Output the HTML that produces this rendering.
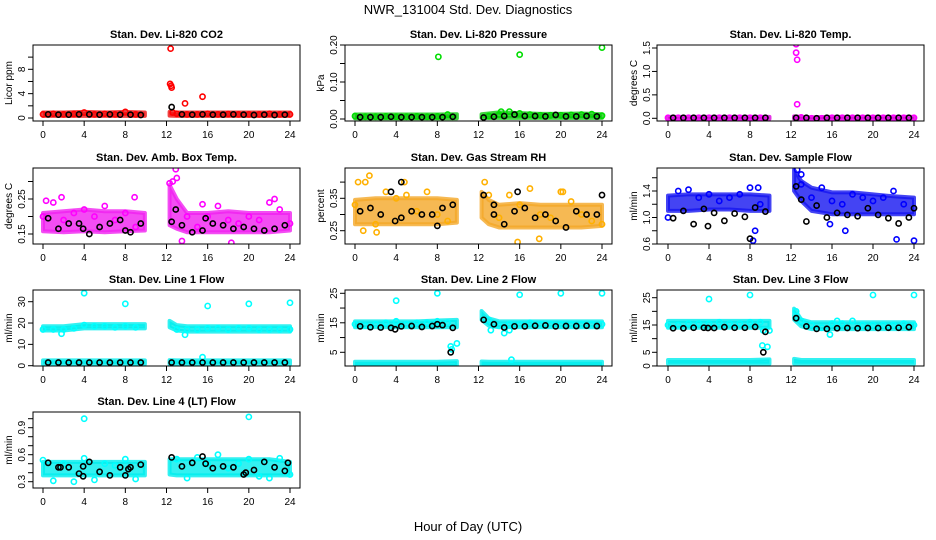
<!DOCTYPE html>
<html><head><meta charset="utf-8">
<style>
html,body{margin:0;padding:0;background:#fff;}
svg{display:block;font-family:"Liberation Sans",Arial,sans-serif;}
</style></head>
<body>
<svg id="chart" width="936" height="540" viewBox="0 0 936 540" xmlns="http://www.w3.org/2000/svg">
<text x="468" y="14" text-anchor="middle" font-size="13">NWR_131004 Std. Dev. Diagnostics</text>
<text x="468" y="531" text-anchor="middle" font-size="13">Hour of Day (UTC)</text>
</svg>
<script>
// ---- shared hour grids ----
const sampleHours=[0,1,2,3,4,5,6,7,8,9,13,14,15,16,17,18,19,20,21,22,23,24];
const blackHours=[0.5,1.5,2.5,3.5,4.5,5.5,6.5,7.5,8.5,9.5,12.5,13.5,14.5,15.5,16.5,17.5,18.5,19.5,20.5,21.5,22.5,23.5];
const bandHours=[0,2,4,6,8,9.9,12.3,13,14,16,18,20,22,24];
const xTicks=[0,4,8,12,16,20,24];

// ---- P1 CO2 ----
const p1Lo=[0.35,0.35,0.35,0.35,0.35,0.35,0.4,0.35,0.35,0.35,0.35,0.35,0.35,0.35];
const p1Hi=[0.9,0.9,1.0,0.9,1.0,0.9,1.0,0.9,0.9,0.9,0.9,0.9,0.9,0.9];
const p1Col=[0.6,0.7,0.6,0.65,0.9,0.6,0.7,0.6,1.0,0.6,0.7,0.6,0.6,0.7,0.6,0.65,0.6,0.6,0.6,0.7,0.6,0.6];
const p1OutT=[12.4,12.35,12.45,12.5,13.8,15.5,12.6];
const p1OutV=[11.4,5.6,5.3,5.0,2.4,3.5,0.9];
const p1Blk=[0.6,0.55,0.55,0.6,0.6,0.55,0.6,0.55,0.55,0.5,1.8,0.6,0.55,0.6,0.55,0.55,0.6,0.55,0.5,0.55,0.5,0.55];
const p1Ticks=[0,2,4,6,8,10];
const p1Labels=["0","","4","","8",""];

// ---- P2 Pressure ----
const p2Lo=[0.002,0.002,0.002,0.002,0.002,0.002,0.003,0.003,0.003,0.003,0.003,0.003,0.003,0.003];
const p2Hi=[0.012,0.012,0.012,0.012,0.012,0.013,0.013,0.015,0.018,0.016,0.014,0.014,0.015,0.013];
const p2Col=[0.008,0.006,0.006,0.007,0.006,0.006,0.007,0.006,0.007,0.012,0.008,0.012,0.02,0.015,0.012,0.01,0.01,0.01,0.011,0.012,0.013,0.009];
const p2OutT=[8.1,16,24,14.2];
const p2OutV=[0.168,0.174,0.193,0.02];
const p2Blk=[0.005,0.005,0.005,0.006,0.005,0.005,0.005,0.005,0.005,0.006,0.004,0.006,0.008,0.012,0.008,0.008,0.007,0.011,0.007,0.007,0.008,0.007];
const p2Ticks=[0,0.05,0.1,0.15,0.2];
const p2Labels=["0.00","","0.10","","0.20"];

// ---- P3 Temp ----
const p3Lo=[-0.01,-0.01,-0.01,-0.01,-0.01,-0.01,-0.01,-0.01,-0.02,-0.01,-0.01,-0.01,-0.01,-0.01];
const p3Hi=[0.03,0.03,0.03,0.03,0.03,0.03,0.04,0.03,0.02,0.03,0.03,0.03,0.03,0.03];
const p3Col=[0.01,0.01,0.01,0.01,0.01,0.01,0.01,0.01,0.01,0.01,0.02,0.0,0.0,0.01,0.01,0.01,0.01,0.01,0.01,0.01,0.01,0.01];
const p3OutT=[12.5,12.5,12.6,12.6];
const p3OutV=[1.58,1.4,1.25,0.3];
const p3Blk=[0.01,0.01,0.01,0.01,0.01,0.01,0.01,0.01,0.01,0.01,0.01,0.01,0.0,0.01,0.01,0.01,0.01,0.01,0.01,0.01,0.01,0.01];
const p3Ticks=[0,0.5,1,1.5];
const p3Labels=["0.0","0.5","1.0","1.5"];

// ---- P4 Amb Box Temp ----
const p4Lo=[0.158,0.155,0.158,0.155,0.158,0.16,0.175,0.165,0.155,0.155,0.155,0.155,0.155,0.16];
const p4Hi=[0.21,0.215,0.22,0.215,0.215,0.21,0.29,0.25,0.21,0.21,0.215,0.21,0.21,0.21];
const p4Col=[0.2,0.24,0.19,0.21,0.22,0.2,0.23,0.19,0.21,0.17,0.31,0.2,0.17,0.2,0.23,0.19,0.18,0.2,0.19,0.24,0.22,0.18];
const p4OutT=[0.3,1.8,8.9,12.9,12.3,12.6,15.5,18.3,22.5,13.5];
const p4OutV=[0.245,0.255,0.255,0.335,0.295,0.3,0.235,0.125,0.25,0.13];
const p4Blk=[0.195,0.165,0.18,0.18,0.15,0.17,0.18,0.19,0.155,0.18,0.185,0.175,0.155,0.16,0.18,0.175,0.165,0.17,0.165,0.16,0.165,0.175];
const p4ExT=[12.9,3.9,8,15.8];
const p4ExV=[0.22,0.165,0.16,0.195];
const p4Ticks=[0.15,0.2,0.25,0.3];
const p4Labels=["0.15","","0.25",""];

// ---- P5 Gas Stream RH ----
const p5Lo=[0.27,0.27,0.27,0.27,0.27,0.275,0.29,0.27,0.26,0.26,0.26,0.26,0.26,0.265];
const p5Hi=[0.345,0.35,0.35,0.35,0.35,0.345,0.37,0.345,0.33,0.335,0.33,0.33,0.33,0.33];
const p5Col=[0.33,0.40,0.27,0.37,0.35,0.36,0.31,0.37,0.3,0.28,0.36,0.29,0.36,0.33,0.38,0.3,0.29,0.37,0.34,0.3,0.28,0.27];
const p5OutT=[0.3,1.4,4.8,12.6,15.8,17.9,20.2,2.1,0.8];
const p5OutV=[0.40,0.42,0.40,0.40,0.215,0.225,0.37,0.245,0.25];
const p5Blk=[0.31,0.32,0.30,0.37,0.29,0.31,0.30,0.30,0.32,0.33,0.36,0.30,0.27,0.31,0.32,0.29,0.30,0.28,0.26,0.31,0.30,0.30];
const p5ExT=[4.5,3.9,8,15.8,24,13.5];
const p5ExV=[0.40,0.28,0.265,0.37,0.36,0.33];
const p5Ticks=[0.25,0.3,0.35,0.4];
const p5Labels=["0.25","","0.35",""];

// ---- P6 Sample Flow ----
const p6Lo=[1.1,1.1,1.12,1.12,1.1,1.1,1.4,1.25,1.1,1.05,1.05,1.05,1.05,1.05];
const p6Hi=[1.33,1.35,1.35,1.35,1.35,1.33,1.72,1.55,1.45,1.38,1.38,1.35,1.32,1.3];
const p6Col=[1.0,1.4,1.42,1.3,1.35,1.25,1.3,1.35,1.45,1.2,1.5,1.3,1.45,1.25,1.2,1.35,1.3,1.25,1.3,1.4,1.2,0.65];
const p6OutT=[8.3,8.5,12.6,13.0,17.3,22.3,15.8,8.8];
const p6OutV=[0.65,0.8,1.72,1.65,0.8,0.67,0.9,1.45];
const p6Blk=[0.99,1.1,0.9,1.13,1.07,0.95,1.06,1.01,1.15,1.09,1.47,0.94,1.18,1.0,1.07,1.04,1.02,1.14,1.04,0.99,0.91,1.0];
const p6ExT=[8,3.9,13.0,24];
const p6ExV=[0.68,0.87,1.27,1.14];
const p6Ticks=[0.6,0.8,1.0,1.2,1.4,1.6];
const p6Labels=["0.6","","1.0","","1.4",""];

// ---- P7 Line 1 ----
const p7Lo=[16.5,16.5,17.5,17.5,17.5,17.5,18,16.5,16,16,16,16,16,16];
const p7Hi=[18.5,18.5,19.5,19.5,19.5,19.5,21,19,18.5,18.5,18.5,18.5,18.5,18.5];
const p7Lo2=[0.8,0.8,0.8,0.8,0.8,0.8,0.8,0.8,0.8,0.8,0.8,0.8,0.8,0.8];
const p7Hi2=[2.5,2.5,2.5,2.5,2.5,2.5,2.6,2.5,2.5,2.5,2.5,2.5,2.5,2.5];
const p7Col=[17,17,17,17.5,19,18.5,18.5,18,18.5,18,17,17,17,17.5,17.5,17,17.5,17.5,17,17,17,17];
const p7OutT=[4,8,16,20,24,15.5,13.8,1.8];
const p7OutV=[34,29,28,29,29.5,4,14.5,15];
const p7Blk=[1.5,1.5,1.5,1.5,1.5,1.5,1.5,1.5,1.5,1.5,1.5,1.5,1.5,1.5,1.5,1.5,1.5,1.5,1.5,1.5,1.5,1.5];
const p7Ticks=[0,10,20,30];
const p7Labels=["0","10","20","30"];

// ---- P8 Line 2 ----
const p8Lo=[13.5,13.5,13.5,13.5,13.5,13.5,16,14,13.5,13.5,13.5,13.5,13.5,13.5];
const p8Hi=[15.5,15.5,15.5,15.5,15.8,16,19,16.5,15.5,15.5,15.5,15.5,15.5,15.5];
const p8Lo2=[0.5,0.5,0.5,0.5,0.5,0.5,0.5,0.5,0.5,0.5,0.5,0.5,0.5,0.5];
const p8Hi2=[1.8,1.8,1.8,1.8,1.8,2.0,1.9,1.8,1.8,1.8,1.8,1.8,1.8,1.8];
const p8Col=[14.5,14,14.5,15,15.5,14.5,15,15,15.5,15,16,14,14.5,14.5,15,14.5,14.5,14.5,14.5,14.5,14.5,14.5];
const p8OutT=[4,8,16,20,24,9.3,9.4,9.9,14.5,15,13.2,15.2];
const p8OutV=[22.5,25,24.5,25,25,7,6,8,11.5,12.5,12.5,2.5];
const p8Blk=[13.8,13.5,13.4,13.3,13.8,13.9,13.6,13.9,14.2,13.3,16,14.5,13.4,13.8,13.8,14,14.1,13.8,13.9,13.9,14,13.9];
const p8ExT=[9.3,3.9,8.0];
const p8ExV=[5,12.8,14.5];
const p8Ticks=[5,10,15,20,25];
const p8Labels=["5","","15","","25"];

// ---- P9 Line 3 ----
const p9Lo=[14,14,14,14,14,14,17,14.5,13.5,13.5,13.5,13.5,13.5,13.5];
const p9Hi=[16.5,16.5,16.5,16.5,16.5,16.5,21,17,16,16,16,16,16,16];
const p9Lo2=[0.8,0.8,0.8,0.8,0.8,0.8,0.9,0.8,0.8,0.8,0.8,0.8,0.8,0.8];
const p9Hi2=[2.2,2.2,2.2,2.2,2.2,2.4,2.6,2.2,2.2,2.2,2.2,2.2,2.2,2.2];
const p9Col=[15,15,15.5,15.5,15.5,16,15.5,15.5,16,16,16.5,15,14,15.5,15.5,16.5,15,15,15,15,15.5,15];
const p9OutT=[4,8,12.5,20,24,9.2,9.7,9.9,15.8,16.5,9.3];
const p9OutV=[24.5,26,20,26,26,7.5,7,13,11.5,16.5,13];
const p9Blk=[13.8,13.8,14,14,13.9,14.2,14,14,14.3,12.5,17.5,14.5,13.6,13.6,13.8,13.9,13.8,13.9,13.9,14,14,14.2];
const p9ExT=[9.3,3.9];
const p9ExV=[5,13.9];
const p9Ticks=[0,5,10,15,20,25];
const p9Labels=["0","5","","15","","25"];

// ---- P10 Line 4 ----
const p10Lo=[0.37,0.37,0.37,0.37,0.37,0.37,0.38,0.37,0.37,0.37,0.37,0.37,0.37,0.37];
const p10Hi=[0.52,0.52,0.52,0.52,0.52,0.52,0.55,0.55,0.55,0.55,0.55,0.55,0.55,0.52];
const p10Col=[0.54,0.31,0.5,0.3,0.56,0.32,0.5,0.48,0.55,0.33,0.55,0.34,0.57,0.5,0.6,0.45,0.5,0.55,0.36,0.34,0.56,0.38];
const p10OutT=[4,20];
const p10OutV=[1.0,1.02];
const p10Blk=[0.51,0.46,0.46,0.39,0.52,0.41,0.37,0.46,0.46,0.49,0.57,0.47,0.51,0.58,0.45,0.47,0.46,0.38,0.43,0.52,0.46,0.42];
const p10ExT=[1.7,3.9,3.9,8,8.3,15.8,19.7,23.8];
const p10ExV=[0.46,0.36,0.47,0.37,0.44,0.5,0.4,0.51];
const p10Ticks=[0.3,0.4,0.5,0.6,0.7,0.8,0.9,1.0];
const p10Labels=["0.3","","","0.6","","","0.9",""];

const NS="http://www.w3.org/2000/svg";
const svg=document.getElementById('chart');
function mk(tag,attrs,parent){const e=document.createElementNS(NS,tag);for(const k in attrs)e.setAttribute(k,attrs[k]);(parent||svg).appendChild(e);return e;}

const cols=[{l:33,r:300,x0:43,x24:290,yl:8,tl:21},{l:345,r:612,x0:355,x24:602,yl:320,tl:333},{l:657,r:924,x0:668,x24:914,yl:633,tl:646}];
const rows=[{t:45,b:121},{t:168,b:244},{t:290,b:366},{t:412,b:488}];

const panels=[
 {id:'co2',title:'Stan. Dev. Li-820 CO2',yl:'Licor ppm',c:0,r:0,ref:[0,118,8,69.3],color:'#ff0000',band:'#ee1111',lo:p1Lo,hi:p1Hi,col:p1Col,oT:p1OutT,oV:p1OutV,blk:p1Blk,ticks:p1Ticks,labels:p1Labels},
 {id:'pressure',title:'Stan. Dev. Li-820 Pressure',yl:'kPa',c:1,r:0,ref:[0,119,0.2,45],color:'#00dd00',band:'#11cc11',lo:p2Lo,hi:p2Hi,col:p2Col,oT:p2OutT,oV:p2OutV,blk:p2Blk,ticks:p2Ticks,labels:p2Labels},
 {id:'temp',title:'Stan. Dev. Li-820 Temp.',yl:'degrees C',c:2,r:0,ref:[0,118.3,1.5,48],color:'#ff00ff',band:'#dd00dd',lo:p3Lo,hi:p3Hi,col:p3Col,oT:p3OutT,oV:p3OutV,blk:p3Blk,ticks:p3Ticks,labels:p3Labels},
 {id:'amb-box-temp',title:'Stan. Dev. Amb. Box Temp.',yl:'degrees C',c:0,r:1,ref:[0.15,234,0.25,199],color:'#ff00ff',band:'#f020f0',lo:p4Lo,hi:p4Hi,col:p4Col,oT:p4OutT,oV:p4OutV,blk:p4Blk,exT:p4ExT,exV:p4ExV,ticks:p4Ticks,labels:p4Labels},
 {id:'gas-stream-rh',title:'Stan. Dev. Gas Stream RH',yl:'percent',c:1,r:1,ref:[0.25,230.7,0.35,198.3],color:'#ffb000',band:'#f4a828',lo:p5Lo,hi:p5Hi,col:p5Col,oT:p5OutT,oV:p5OutV,blk:p5Blk,exT:p5ExT,exV:p5ExV,ticks:p5Ticks,labels:p5Labels},
 {id:'sample-flow',title:'Stan. Dev. Sample Flow',yl:'ml/min',c:2,r:1,ref:[0.6,244,1.4,191],color:'#0000ff',band:'#1515f0',lo:p6Lo,hi:p6Hi,col:p6Col,oT:p6OutT,oV:p6OutV,blk:p6Blk,exT:p6ExT,exV:p6ExV,ticks:p6Ticks,labels:p6Labels},
 {id:'line1-flow',title:'Stan. Dev. Line 1 Flow',yl:'ml/min',c:0,r:2,ref:[0,365.7,30,301.7],color:'#00ffff',band:'#00eeee',lo:p7Lo,hi:p7Hi,lo2:p7Lo2,hi2:p7Hi2,col:p7Col,oT:p7OutT,oV:p7OutV,blk:p7Blk,ticks:p7Ticks,labels:p7Labels},
 {id:'line2-flow',title:'Stan. Dev. Line 2 Flow',yl:'ml/min',c:1,r:2,ref:[5,352.3,25,293.3],color:'#00ffff',band:'#00eeee',lo:p8Lo,hi:p8Hi,lo2:p8Lo2,hi2:p8Hi2,col:p8Col,oT:p8OutT,oV:p8OutV,blk:p8Blk,exT:p8ExT,exV:p8ExV,ticks:p8Ticks,labels:p8Labels},
 {id:'line3-flow',title:'Stan. Dev. Line 3 Flow',yl:'ml/min',c:2,r:2,ref:[5,352.3,25,297.7],color:'#00ffff',band:'#00eeee',lo:p9Lo,hi:p9Hi,lo2:p9Lo2,hi2:p9Hi2,col:p9Col,oT:p9OutT,oV:p9OutV,blk:p9Blk,exT:p9ExT,exV:p9ExV,ticks:p9Ticks,labels:p9Labels},
 {id:'line4-flow',title:'Stan. Dev. Line 4 (LT) Flow',yl:'ml/min',c:0,r:3,ref:[0.3,481.7,0.9,427.7],color:'#00ffff',band:'#00eeee',lo:p10Lo,hi:p10Hi,col:p10Col,oT:p10OutT,oV:p10OutV,blk:p10Blk,exT:p10ExT,exV:p10ExV,ticks:p10Ticks,labels:p10Labels}
];

panels.forEach(p=>{
 const C=cols[p.c],R=rows[p.r];
 const g=mk('g',{});
 
 
 const xs=h=>C.x0+(C.x24-C.x0)*h/24;
 const ys=v=>p.ref[1]+(v-p.ref[0])*(p.ref[3]-p.ref[1])/(p.ref[2]-p.ref[0]);
 const clip='clip-'+p.id;
 const cp=mk('clipPath',{id:clip},g);
 mk('rect',{x:C.l,y:R.t,width:C.r-C.l,height:R.b-R.t},cp);
 const plot=mk('g',{'clip-path':'url(#'+clip+')'},g);
 
 
 const drawBand=(lo,hi,nm)=>{
  [[0,6],[6,14]].forEach(([a,b])=>{
   let pts=[];
   for(let i=a;i<b;i++)pts.push([xs(bandHours[i]),ys(hi[i])]);
   for(let i=b-1;i>=a;i--)pts.push([xs(bandHours[i]),ys(lo[i])]);
   const pg=mk('polygon',{points:pts.map(q=>q.join(',')).join(' '),fill:p.band,'fill-opacity':0.8,stroke:p.band,'stroke-opacity':0.8,'stroke-width':4,'stroke-linejoin':'round'},plot);
   
   
  });
 };
 drawBand(p.lo,p.hi,p.id+'-dense-band');
 if(p.lo2)drawBand(p.lo2,p.hi2,p.id+'-low-band');
 const pt=(h,v,color,nm)=>{
  const c=mk('circle',{cx:xs(h),cy:ys(v),r:2.6,fill:'none',stroke:color,'stroke-width':1.6},plot);
  
  
 };
 sampleHours.forEach((h,i)=>pt(h,p.col[i],p.color,p.id+'-point'));
 p.oT.forEach((h,i)=>pt(h,p.oV[i],p.color,p.id+'-outlier'));
 blackHours.forEach((h,i)=>pt(h,p.blk[i],'#000',p.id+'-hourly-point'));
 if(p.exT)p.exT.forEach((h,i)=>pt(h,p.exV[i],'#000',p.id+'-hourly-point'));
 const box=mk('rect',{x:C.l,y:R.t,width:C.r-C.l,height:R.b-R.t,fill:'none',stroke:'#000','stroke-width':1},g);
 
 
 const t=mk('text',{x:(C.l+C.r)/2,y:R.t-7,'text-anchor':'middle','font-size':11,'font-weight':'bold'},g);
 t.textContent=p.title;
 
 
 xTicks.forEach(h=>{
  const x=xs(h);
  mk('line',{x1:x,x2:x,y1:R.b,y2:R.b+5,stroke:'#000'},g);
  const tl=mk('text',{x:x,y:R.b+17,'text-anchor':'middle','font-size':10},g);
  tl.textContent=String(h);
  
  
 });
 p.ticks.forEach((v,i)=>{
  const y=ys(v);
  mk('line',{x1:C.l-5,x2:C.l,y1:y,y2:y,stroke:'#000'},g);
  if(p.labels[i]){
   const tl=mk('text',{x:0,y:0,'text-anchor':'middle','font-size':10,transform:'translate('+(C.tl+4)+','+y+') rotate(-90)'},g);
   tl.textContent=p.labels[i];
   
   
  }
 });
 const yl=mk('text',{x:0,y:0,'text-anchor':'middle','font-size':10,transform:'translate('+(C.yl+4)+','+((R.t+R.b)/2)+') rotate(-90)'},g);
 yl.textContent=p.yl;
 
 
});
</script>
</body></html>
